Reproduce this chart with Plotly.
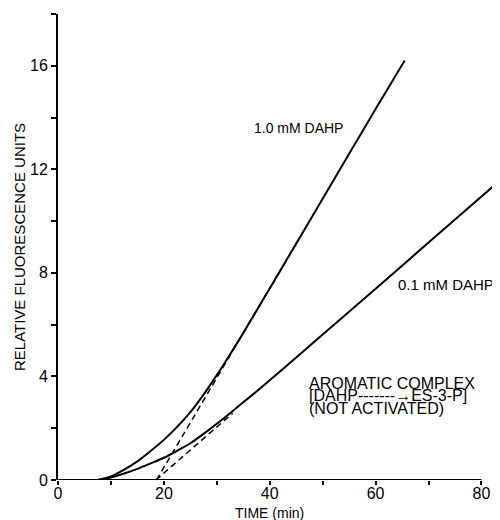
import plotly.graph_objects as go

# --- data ---
time_1mM = [7.5, 10, 12.5, 15, 17.5, 20, 22.5, 25, 27.5, 30, 32.5, 35, 37.5, 40, 45, 50, 55, 60, 65.5]
fluor_1mM = [0.0, 0.14, 0.4, 0.72, 1.12, 1.55, 2.05, 2.62, 3.3, 4.05, 4.85, 5.68, 6.54, 7.4, 9.13, 10.86, 12.6, 14.33, 16.2]

time_01mM = [7.5, 10, 12.5, 15, 17.5, 20, 22.5, 25, 27.5, 30, 32.5, 35, 37.5, 40, 45, 50, 60, 70, 80, 84]
fluor_01mM = [0.0, 0.1, 0.25, 0.43, 0.64, 0.86, 1.13, 1.42, 1.78, 2.17, 2.58, 3.0, 3.42, 3.85, 4.73, 5.62, 7.39, 9.17, 10.95, 11.66]

tangent_1mM_x = [18.6, 42]
tangent_1mM_y = [0.0, 8.1]
tangent_01mM_x = [18.5, 33]
tangent_01mM_y = [0.0, 2.58]

x_ticks = [0, 20, 40, 60, 80]
y_ticks = [0, 4, 8, 12, 16]

FONT = "Liberation Sans, Arial, sans-serif"

fig = go.Figure()
fig.add_trace(go.Scatter(x=time_1mM, y=fluor_1mM, mode="lines", line=dict(color="black", width=2, shape="spline", smoothing=0.8)))
fig.add_trace(go.Scatter(x=time_01mM, y=fluor_01mM, mode="lines", line=dict(color="black", width=2, shape="spline", smoothing=0.8)))
fig.add_trace(go.Scatter(x=tangent_1mM_x, y=tangent_1mM_y, mode="lines", line=dict(color="black", width=1.5, dash="6px,4px")))
fig.add_trace(go.Scatter(x=tangent_01mM_x, y=tangent_01mM_y, mode="lines", line=dict(color="black", width=1.5, dash="6px,4px")))

# x-axis baseline ends at 80
fig.add_shape(type="line", x0=0, x1=80, y0=0, y1=0, xref="x", yref="y", line=dict(color="black", width=2))

fig.update_layout(
    width=492, height=512,
    margin=dict(l=50, r=0, t=6, b=40),
    paper_bgcolor="white", plot_bgcolor="white",
    showlegend=False,
    font=dict(family=FONT, color="black"),
    xaxis=dict(range=[0, 83.5], showgrid=False, zeroline=False, showline=False,
               tickmode="array", tickvals=x_ticks, ticktext=[str(v) for v in x_ticks],
               ticks="outside", ticklen=4, tickwidth=1.5, tickcolor="black",
               ticklabelstandoff=-5,
               tickfont=dict(size=16, family=FONT, color="black"),
               minor=dict(dtick=10, tick0=0, ticks="outside", ticklen=4, tickwidth=1.5, tickcolor="black")),
    yaxis=dict(range=[0, 18], showgrid=False, zeroline=False, showline=True, linecolor="black", linewidth=2,
               tickmode="array", tickvals=y_ticks, ticktext=[str(v) for v in y_ticks],
               ticks="outside", ticklen=5, tickwidth=1.5, tickcolor="black",
               tickfont=dict(size=16, family=FONT, color="black"),
               minor=dict(dtick=2, tick0=0, ticks="outside", ticklen=5, tickwidth=1.5, tickcolor="black"),
               title=dict(text="RELATIVE FLUORESCENCE UNITS", font=dict(size=15, family=FONT, color="black"), standoff=1)),
)

blk_font = dict(size=16, family=FONT, color="black")
fig.add_annotation(x=40, y=0, xref="x", yref="y", yshift=-33, text="TIME (min)", showarrow=False,
                   font=dict(size=14, family=FONT, color="black"))
fig.add_annotation(x=36.6, y=13.6, xref="x", yref="y", text="1.0 mM DAHP", showarrow=False, xanchor="left",
                   font=dict(size=14, family=FONT, color="black"))
fig.add_annotation(x=63.8, y=7.57, xref="x", yref="y", text="0.1 mM DAHP", showarrow=False, xanchor="left",
                   font=dict(size=15, family=FONT, color="black"))
fig.add_annotation(x=47.0, y=3.74, xref="x", yref="y", text="AROMATIC COMPLEX", showarrow=False, xanchor="left", font=blk_font)
fig.add_annotation(x=47.0, y=3.26, xref="x", yref="y", text="[DAHP-------\u2192ES-3-P]", showarrow=False, xanchor="left", font=blk_font)
fig.add_annotation(x=47.0, y=2.78, xref="x", yref="y", text="(NOT ACTIVATED)", showarrow=False, xanchor="left", font=blk_font)

fig.write_html("out.html")
